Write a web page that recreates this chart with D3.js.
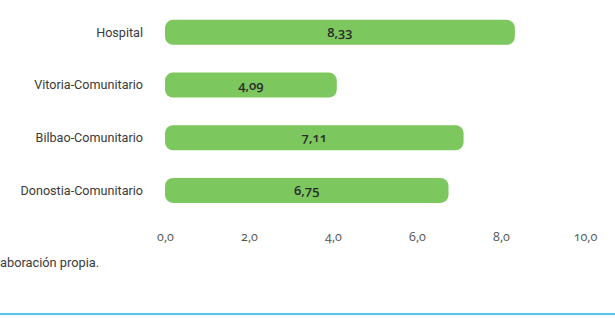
<!DOCTYPE html>
<html>
<head>
<meta charset="utf-8">
<script src="https://cdn.jsdelivr.net/npm/d3@7"></script>
<style>
	body { margin: 0; background: #fff; }
	svg text { font-family: Roboto, "Open Sans", sans-serif; }
	.num { font-family: "Open Sans", sans-serif !important; font-variant-numeric: oldstyle-nums; }
</style>
</head>
<body>
<div id="chart"></div>
<script>
const categories = ["Hospital", "Vitoria-Comunitario", "Bilbao-Comunitario", "Donostia-Comunitario"]
const values = [8.33, 4.09, 7.11, 6.75]
const tickValues = [0, 2, 4, 6, 8, 10]
const sourceText = "aboración propia."

const dimensions = { width: 615, height: 318 }
const margin = { left: 165, right: 30 }

const fmt = v => d3.format(".2f")(v).replace(".", ",")
const fmtTick = v => d3.format(".1f")(v).replace(".", ",")

const data = categories.map((name, i) => ({ name: name, value: values[i] }))

const x = d3.scaleLinear()
	.domain([0, 10])
	.range([margin.left, margin.left + 420])

const y = d3.scaleBand()
	.domain(categories)
	.range([6, 216.8])
	.paddingInner(0.525)
	.paddingOuter(0.2625)

const svg = d3.select('#chart')
	.append('svg')
		.attr('width', dimensions.width)
		.attr('height', dimensions.height)

svg.append('g')
		.attr('fill', '#7cc85e')
	.selectAll('rect')
	.data(data)
	.enter().append('rect')
		.attr('x', x(0))
		.attr('y', d => y(d.name))
		.attr('width', d => x(d.value) - x(0))
		.attr('height', y.bandwidth())
		.attr('rx', 8)
		.attr('ry', 8)

// value labels in the middle of each bar
svg.append('g')
	.selectAll('text')
	.data(data)
	.enter().append('text')
		.attr('class', 'num')
		.attr('x', d => (x(0) + x(d.value)) / 2)
		.attr('y', d => y(d.name) + y.bandwidth() / 2)
		.attr('dy', '0.35em')
		.attr('text-anchor', 'middle')
		.attr('font-size', 13)
		.attr('font-weight', 600)
		.attr('fill', '#2b2b2b')
		.text(d => fmt(d.value))

// category labels
svg.append('g')
	.selectAll('text')
	.data(data)
	.enter().append('text')
		.attr('x', 143)
		.attr('y', d => y(d.name) + y.bandwidth() / 2)
		.attr('dy', '0.35em')
		.attr('text-anchor', 'end')
		.attr('font-size', 12.6)
		.attr('fill', '#3a3a3a')
		.text(d => d.name)

const gx = svg.append('g')
		.attr('transform', 'translate(0,230)')
		.call(d3.axisBottom(x).tickValues(tickValues).tickSize(0).tickFormat(fmtTick))

gx.select('.domain').remove()
gx.selectAll('text')
		.attr('class', 'num')
		.attr('font-size', 12.5)
		.attr('fill', '#555')
		.attr('dy', '0.35em')
		.attr('y', 7)

svg.append('text')
		.attr('x', 0)
		.attr('y', 267)
		.attr('font-size', 12.8)
		.attr('fill', '#3a3a3a')
		.text(sourceText)

svg.append('line')
		.attr('x1', 0)
		.attr('x2', dimensions.width)
		.attr('y1', 314)
		.attr('y2', 314)
		.attr('stroke', '#56c5ea')
		.attr('stroke-width', 2)
</script>
</body>
</html>
